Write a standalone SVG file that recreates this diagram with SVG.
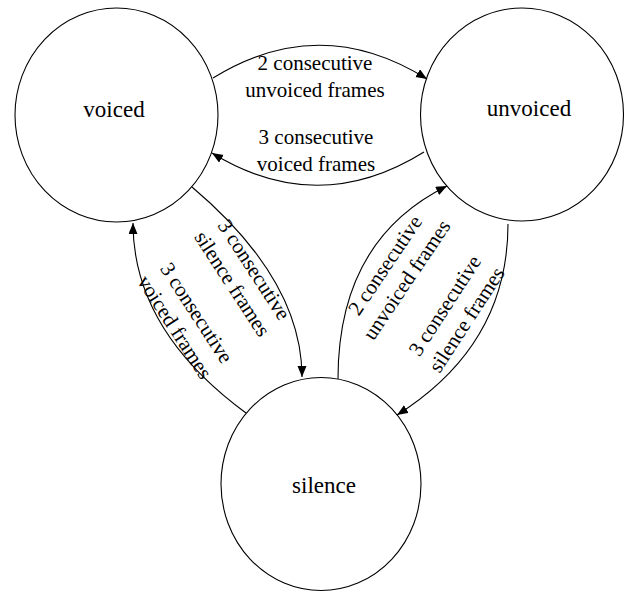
<svg xmlns="http://www.w3.org/2000/svg" width="626" height="593" viewBox="0 0 626 593">
<style>
.node{fill:#fff;stroke:#000;stroke-width:1.1}
.edge{fill:none;stroke:#000;stroke-width:1.1}
.nl{font-family:"Liberation Serif","Times New Roman",serif;font-size:23px;text-anchor:middle;fill:#000}
.el{font-family:"Liberation Serif","Times New Roman",serif;font-size:21px;text-anchor:middle;fill:#000}
</style>
<defs>
<marker id="arr" markerUnits="userSpaceOnUse" markerWidth="12" markerHeight="10" refX="11" refY="4.5" orient="auto">
<path d="M0,0 L11,4.5 L0,9 z" fill="#000"/>
</marker>
</defs>
<rect width="626" height="593" fill="#fff"/>
<g id="voiced">
<ellipse class="node" cx="116.5" cy="115" rx="101.5" ry="107"/>
<text class="nl" x="114" y="117">voiced</text>
</g>
<g id="unvoiced">
<ellipse class="node" cx="522" cy="114.5" rx="101.5" ry="106.5"/>
<text class="nl" x="529" y="116">unvoiced</text>
</g>
<g id="silence">
<ellipse class="node" cx="321" cy="484" rx="100" ry="106.5"/>
<text class="nl" x="324" y="493">silence</text>
</g>
<g id="connectors">
<path class="edge" d="M213,78 Q320,12 427,79" marker-end="url(#arr)"/>
<path class="edge" d="M424,152 Q318,218 212,153" marker-end="url(#arr)"/>
<path class="edge" d="M192,187 Q302,280 302,377" marker-end="url(#arr)"/>
<path class="edge" d="M246,413 Q133,330 133,223" marker-end="url(#arr)"/>
<path class="edge" d="M338,379 Q338,240 447,186" marker-end="url(#arr)"/>
<path class="edge" d="M508,224 Q508,345 397,415" marker-end="url(#arr)"/>
</g>
<g id="labels">
<text class="el" x="315" y="70">2 consecutive</text>
<text class="el" x="315" y="97">unvoiced frames</text>
<text class="el" x="316" y="144">3 consecutive</text>
<text class="el" x="316" y="171">voiced frames</text>
<g transform="translate(243.3,276.7) rotate(57)">
<text class="el" x="0" y="-6">3 consecutive</text>
<text class="el" x="0" y="20">silence frames</text>
</g>
<g transform="translate(185.8,320) rotate(57)">
<text class="el" x="0" y="-6">3 consecutive</text>
<text class="el" x="0" y="20">voiced frames</text>
</g>
<g transform="translate(395.8,272.5) rotate(-56)">
<text class="el" x="0" y="-6">2 consecutive</text>
<text class="el" x="0" y="20">unvoiced frames</text>
</g>
<g transform="translate(455.7,312.5) rotate(-57)">
<text class="el" x="0" y="-6">3 consecutive</text>
<text class="el" x="0" y="20">silence frames</text>
</g>
</g>
</svg>
